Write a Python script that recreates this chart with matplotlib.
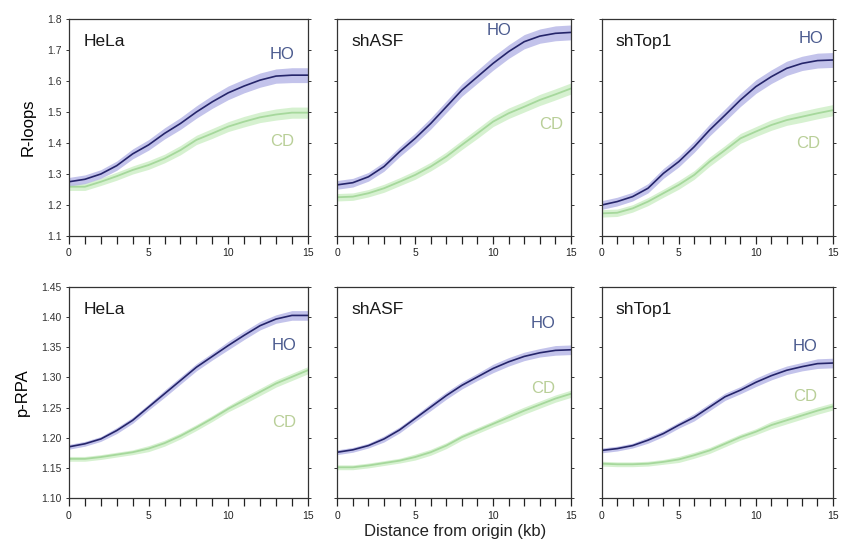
import numpy as np
import matplotlib
matplotlib.use('Agg')
import matplotlib.pyplot as plt

plt.rcParams['font.family'] = ['Liberation Sans', 'DejaVu Sans']

# ------------------------------------------------------------
# Data (x in kb, 0..15)
# ------------------------------------------------------------
dist_kb = list(range(16))
panel_names = ['HeLa', 'shASF', 'shTop1']

# R-loops
rl_hela_ho = [1.275, 1.283, 1.300, 1.327, 1.365, 1.394, 1.431, 1.463,
              1.500, 1.533, 1.562, 1.584, 1.603, 1.616, 1.619, 1.619]
rl_hela_cd = [1.259, 1.259, 1.275, 1.293, 1.313, 1.329, 1.350, 1.377,
              1.410, 1.431, 1.453, 1.469, 1.483, 1.492, 1.498, 1.498]
rl_asf_ho = [1.265, 1.272, 1.291, 1.324, 1.372, 1.415, 1.463, 1.517,
             1.571, 1.614, 1.657, 1.695, 1.727, 1.745, 1.754, 1.757]
rl_asf_cd = [1.225, 1.227, 1.238, 1.254, 1.275, 1.297, 1.324, 1.356,
             1.394, 1.431, 1.469, 1.496, 1.517, 1.539, 1.557, 1.576]
rl_top_ho = [1.200, 1.211, 1.227, 1.254, 1.302, 1.340, 1.388, 1.442,
             1.490, 1.539, 1.582, 1.614, 1.641, 1.657, 1.666, 1.668]
rl_top_cd = [1.173, 1.175, 1.189, 1.211, 1.238, 1.265, 1.297, 1.340,
             1.377, 1.415, 1.437, 1.458, 1.474, 1.485, 1.496, 1.506]

rl_ho_err = [0.014, 0.014, 0.014, 0.015, 0.016, 0.017, 0.018, 0.019,
             0.020, 0.021, 0.022, 0.022, 0.023, 0.023, 0.024, 0.024]
rl_cd_err = [0.012, 0.012, 0.012, 0.013, 0.013, 0.014, 0.014, 0.015,
             0.015, 0.016, 0.016, 0.017, 0.017, 0.018, 0.018, 0.018]

# p-RPA
rpa_hela_ho = [1.185, 1.190, 1.198, 1.212, 1.229, 1.251, 1.273, 1.295,
               1.317, 1.335, 1.353, 1.370, 1.386, 1.397, 1.403, 1.403]
rpa_hela_cd = [1.165, 1.165, 1.168, 1.172, 1.176, 1.182, 1.191, 1.203,
               1.217, 1.232, 1.248, 1.262, 1.276, 1.290, 1.301, 1.312]
rpa_asf_ho = [1.176, 1.180, 1.187, 1.198, 1.213, 1.232, 1.251, 1.270,
              1.287, 1.301, 1.315, 1.326, 1.335, 1.341, 1.345, 1.346]
rpa_asf_cd = [1.151, 1.151, 1.154, 1.158, 1.162, 1.168, 1.176, 1.187,
              1.201, 1.212, 1.223, 1.234, 1.245, 1.255, 1.265, 1.273]
rpa_top_ho = [1.179, 1.182, 1.187, 1.196, 1.207, 1.221, 1.234, 1.251,
              1.268, 1.279, 1.292, 1.303, 1.312, 1.318, 1.323, 1.324]
rpa_top_cd = [1.157, 1.156, 1.156, 1.157, 1.160, 1.164, 1.171, 1.179,
              1.190, 1.201, 1.210, 1.221, 1.229, 1.237, 1.245, 1.252]

rpa_ho_err = [0.004, 0.004, 0.004, 0.005, 0.005, 0.005, 0.006, 0.006,
              0.006, 0.006, 0.007, 0.007, 0.007, 0.007, 0.008, 0.008]
rpa_cd_err = [0.004, 0.004, 0.004, 0.004, 0.004, 0.005, 0.005, 0.005,
              0.005, 0.005, 0.005, 0.006, 0.006, 0.006, 0.006, 0.006]

# label positions (x, y) for HO / CD text in each panel
rl_ho_lbl = [(13.4, 1.685), (10.4, 1.762), (13.6, 1.738)]
rl_cd_lbl = [(13.4, 1.404), (13.7, 1.460), (13.4, 1.397)]
rpa_ho_lbl = [(13.5, 1.353), (13.2, 1.389), (13.2, 1.352)]
rpa_cd_lbl = [(13.5, 1.226), (13.2, 1.281), (13.2, 1.269)]

# ------------------------------------------------------------
HO_LINE = '#25256a'
HO_BAND = '#b4b4e6'
HO_TEXT = '#4a5a8e'
CD_LINE = '#a6d89c'
CD_BAND = '#d2f0cb'
CD_TEXT = '#b9cf98'

fig = plt.figure(figsize=(8.56, 5.45), dpi=100)

lefts = [0.0806, 0.394, 0.703]
widths = [0.279, 0.273, 0.270]
rows = [
    dict(bottom=0.567, height=0.398, ylim=(1.1, 1.8),
         yticks=[1.1, 1.2, 1.3, 1.4, 1.5, 1.6, 1.7, 1.8], fmt='{:.1f}',
         ho=[rl_hela_ho, rl_asf_ho, rl_top_ho],
         cd=[rl_hela_cd, rl_asf_cd, rl_top_cd],
         ho_err=rl_ho_err, cd_err=rl_cd_err,
         ho_lbl=rl_ho_lbl, cd_lbl=rl_cd_lbl, ylabel='R-loops'),
    dict(bottom=0.0862, height=0.387, ylim=(1.10, 1.45),
         yticks=[1.10, 1.15, 1.20, 1.25, 1.30, 1.35, 1.40, 1.45], fmt='{:.2f}',
         ho=[rpa_hela_ho, rpa_asf_ho, rpa_top_ho],
         cd=[rpa_hela_cd, rpa_asf_cd, rpa_top_cd],
         ho_err=rpa_ho_err, cd_err=rpa_cd_err,
         ho_lbl=rpa_ho_lbl, cd_lbl=rpa_cd_lbl, ylabel='p-RPA'),
]

x = np.array(dist_kb)
for r in rows:
    for j in range(3):
        ax = fig.add_axes([lefts[j], r['bottom'], widths[j], r['height']])
        ho = np.array(r['ho'][j])
        cd = np.array(r['cd'][j])
        he = np.array(r['ho_err'])
        ce = np.array(r['cd_err'])

        ax.fill_between(x, cd - ce, cd + ce, color=CD_BAND, lw=0, alpha=0.9)
        ax.plot(x, cd, color=CD_LINE, lw=1.3)
        ax.fill_between(x, ho - he, ho + he, color=HO_BAND, lw=0, alpha=0.8)
        ax.plot(x, ho, color=HO_LINE, lw=1.2)

        ax.set_xlim(0, 15)
        ax.set_ylim(*r['ylim'])
        ax.set_xticks(range(16))
        ax.set_xticklabels([str(v) if v % 5 == 0 else '' for v in range(16)],
                           fontsize=7.5)
        ax.set_yticks(r['yticks'])
        if j == 0:
            ax.set_yticklabels([r['fmt'].format(v) for v in r['yticks']],
                               fontsize=7.5)
            ax.set_ylabel(r['ylabel'], fontsize=12, labelpad=8)
        else:
            ax.set_yticklabels([])
        ax.tick_params(axis='x', direction='out', length=5.5, width=0.9,
                       pad=3.5, colors='#222222')
        ax.tick_params(axis='y', direction='out', length=2.5, width=0.7,
                       left=True, right=True, pad=3, colors='#333333')
        for s in ax.spines.values():
            s.set_color('#333333')
            s.set_linewidth(0.9)

        ax.text(0.06, 0.895, panel_names[j], transform=ax.transAxes,
                fontsize=12.5, color='#1a1a1a', va='center')
        hx, hy = r['ho_lbl'][j]
        ax.text(hx, hy, 'HO', fontsize=12, color=HO_TEXT,
                ha='center', va='center')
        cx, cy = r['cd_lbl'][j]
        ax.text(cx, cy, 'CD', fontsize=12, color=CD_TEXT,
                ha='center', va='center')

fig.text(0.532, 0.016, 'Distance from origin (kb)', ha='center',
         fontsize=12, color='#222222')

fig.savefig('out.png', dpi=100)
